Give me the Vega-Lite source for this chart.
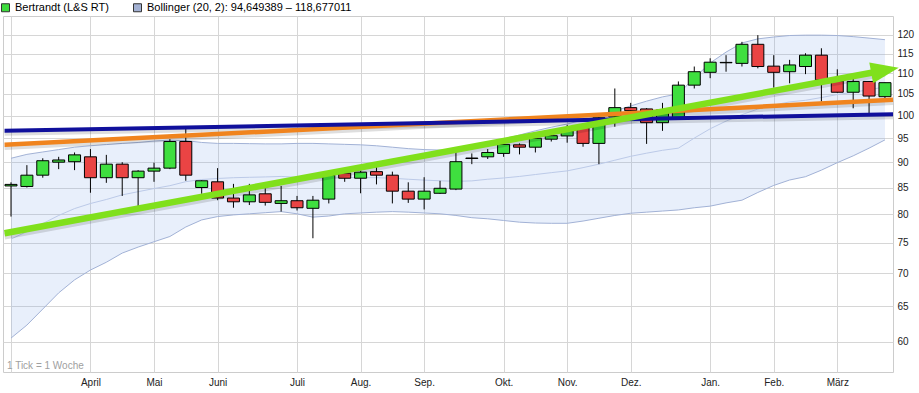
{
  "$schema": "https://vega.github.io/schema/vega-lite/v6.json",
  "width": 890,
  "height": 356,
  "autosize": {"type": "none"},
  "padding": {"left": 3, "top": 16, "right": 26, "bottom": 21},
  "background": "white",
  "config": {
    "view": {"stroke": "#cccccc", "strokeWidth": 1},
    "font": "Liberation Sans",
    "axis": {"gridColor": "#d6d6d6", "gridWidth": 1, "labelFont": "Liberation Sans", "labelFontSize": 10, "labelColor": "#222222", "ticks": false, "domain": false, "labelOverlap": false},
    "axisY": {"orient": "right", "grid": true, "ticks": false, "domain": false, "labelPadding": 4, "title": null, "labelOverlap": false, "labelAlign": "left", "tickCount": 30, "labelSeparation": 0}
  },
  "data": {"values": [
    {"d":"2013-02-25","o":85.3,"h":86.0,"l":79.6,"c":85.6,"up":90.8,"mid":75.65,"lo":60.5},
    {"d":"2013-03-04","o":85.2,"h":89.4,"l":85.0,"c":87.4,"up":91.6,"mid":76.95,"lo":62.3},
    {"d":"2013-03-11","o":87.4,"h":90.8,"l":86.9,"c":90.3,"up":92.1,"mid":78.35,"lo":64.6},
    {"d":"2013-03-18","o":90.0,"h":91.1,"l":88.6,"c":90.45,"up":92.6,"mid":79.8,"lo":67.0},
    {"d":"2013-03-25","o":90.1,"h":92.0,"l":88.4,"c":91.5,"up":93.1,"mid":81.05,"lo":69.0},
    {"d":"2013-04-01","o":91.1,"h":92.7,"l":84.0,"c":86.9,"up":93.4,"mid":81.98,"lo":70.55},
    {"d":"2013-04-08","o":86.9,"h":91.5,"l":85.9,"c":89.6,"up":93.65,"mid":82.73,"lo":71.8},
    {"d":"2013-04-15","o":89.6,"h":90.0,"l":83.4,"c":86.9,"up":93.9,"mid":83.6,"lo":73.3},
    {"d":"2013-04-22","o":86.9,"h":88.4,"l":81.4,"c":88.2,"up":94.1,"mid":84.2,"lo":74.3},
    {"d":"2013-04-29","o":88.2,"h":89.9,"l":86.1,"c":88.8,"up":94.4,"mid":84.8,"lo":75.2},
    {"d":"2013-05-06","o":88.8,"h":94.8,"l":88.6,"c":94.3,"up":94.6,"mid":85.35,"lo":76.1},
    {"d":"2013-05-13","o":94.3,"h":97.0,"l":86.3,"c":87.4,"up":94.5,"mid":86.13,"lo":77.75},
    {"d":"2013-05-20","o":85.0,"h":86.4,"l":83.8,"c":86.3,"up":94.1,"mid":86.55,"lo":79.0},
    {"d":"2013-05-27","o":86.1,"h":88.8,"l":82.6,"c":83.0,"up":93.9,"mid":86.75,"lo":79.6},
    {"d":"2013-06-03","o":83.0,"h":85.7,"l":81.2,"c":82.3,"up":93.9,"mid":86.9,"lo":79.9},
    {"d":"2013-06-10","o":82.3,"h":85.7,"l":81.7,"c":83.6,"up":93.85,"mid":86.98,"lo":80.1},
    {"d":"2013-06-17","o":83.8,"h":84.85,"l":81.6,"c":82.2,"up":93.8,"mid":87.05,"lo":80.3},
    {"d":"2013-06-24","o":82.0,"h":85.3,"l":80.5,"c":82.5,"up":93.8,"mid":87.15,"lo":80.5},
    {"d":"2013-07-01","o":82.5,"h":83.4,"l":80.7,"c":81.2,"up":93.9,"mid":87.0,"lo":80.1},
    {"d":"2013-07-08","o":81.1,"h":83.4,"l":75.8,"c":82.6,"up":93.9,"mid":86.7,"lo":79.5},
    {"d":"2013-07-15","o":82.8,"h":87.8,"l":82.0,"c":87.4,"up":93.8,"mid":86.75,"lo":79.7},
    {"d":"2013-07-22","o":87.8,"h":88.2,"l":86.1,"c":86.8,"up":93.7,"mid":86.9,"lo":80.1},
    {"d":"2013-07-29","o":86.8,"h":88.3,"l":83.9,"c":88.0,"up":93.6,"mid":86.93,"lo":80.25},
    {"d":"2013-08-05","o":88.1,"h":89.0,"l":85.6,"c":87.4,"up":93.4,"mid":86.9,"lo":80.4},
    {"d":"2013-08-12","o":87.4,"h":88.1,"l":82.0,"c":84.3,"up":93.1,"mid":86.8,"lo":80.5},
    {"d":"2013-08-19","o":84.3,"h":86.0,"l":82.1,"c":82.8,"up":92.8,"mid":86.6,"lo":80.4},
    {"d":"2013-08-26","o":82.8,"h":87.0,"l":80.9,"c":84.3,"up":92.6,"mid":86.43,"lo":80.25},
    {"d":"2013-09-02","o":83.9,"h":86.3,"l":83.8,"c":84.85,"up":92.5,"mid":86.3,"lo":80.1},
    {"d":"2013-09-09","o":84.7,"h":92.2,"l":84.5,"c":90.1,"up":92.6,"mid":86.2,"lo":79.8},
    {"d":"2013-09-16","o":90.75,"h":91.8,"l":89.6,"c":90.85,"up":93.15,"mid":86.28,"lo":79.4},
    {"d":"2013-09-23","o":91.1,"h":92.7,"l":90.65,"c":92.0,"up":94.0,"mid":86.6,"lo":79.2},
    {"d":"2013-09-30","o":91.8,"h":93.9,"l":91.1,"c":93.7,"up":94.8,"mid":86.85,"lo":78.9},
    {"d":"2013-10-07","o":93.6,"h":93.9,"l":91.6,"c":93.1,"up":95.7,"mid":87.15,"lo":78.6},
    {"d":"2013-10-14","o":93.1,"h":95.5,"l":92.0,"c":95.0,"up":96.6,"mid":87.53,"lo":78.45},
    {"d":"2013-10-21","o":94.8,"h":96.1,"l":94.3,"c":95.55,"up":97.4,"mid":87.9,"lo":78.4},
    {"d":"2013-10-28","o":95.5,"h":97.9,"l":94.05,"c":96.6,"up":98.1,"mid":88.25,"lo":78.4},
    {"d":"2013-11-04","o":97.3,"h":97.5,"l":93.2,"c":93.9,"up":99.0,"mid":88.9,"lo":78.8},
    {"d":"2013-11-11","o":93.9,"h":99.7,"l":89.6,"c":99.5,"up":99.9,"mid":89.6,"lo":79.3},
    {"d":"2013-11-18","o":99.7,"h":106.3,"l":97.5,"c":101.8,"up":101.0,"mid":90.4,"lo":79.8},
    {"d":"2013-11-25","o":101.8,"h":102.9,"l":100.9,"c":101.1,"up":102.2,"mid":91.2,"lo":80.2},
    {"d":"2013-12-02","o":101.5,"h":101.7,"l":93.8,"c":98.4,"up":103.3,"mid":91.85,"lo":80.4},
    {"d":"2013-12-09","o":98.4,"h":102.9,"l":96.6,"c":101.3,"up":104.3,"mid":92.45,"lo":80.6},
    {"d":"2013-12-16","o":99.6,"h":108.0,"l":99.4,"c":107.1,"up":105.0,"mid":92.9,"lo":80.8},
    {"d":"2013-12-23","o":107.1,"h":111.7,"l":106.3,"c":110.4,"up":108.85,"mid":95.03,"lo":81.2},
    {"d":"2013-12-30","o":110.25,"h":113.8,"l":108.8,"c":112.8,"up":112.6,"mid":97.05,"lo":81.5},
    {"d":"2014-01-06","o":112.65,"h":114.6,"l":110.4,"c":112.75,"up":115.4,"mid":98.75,"lo":82.1},
    {"d":"2014-01-13","o":112.5,"h":118.1,"l":111.7,"c":117.45,"up":117.8,"mid":100.2,"lo":82.6},
    {"d":"2014-01-20","o":117.45,"h":119.9,"l":111.25,"c":111.7,"up":118.9,"mid":101.48,"lo":84.05},
    {"d":"2014-01-27","o":111.8,"h":114.6,"l":106.5,"c":110.25,"up":119.4,"mid":102.4,"lo":85.4},
    {"d":"2014-02-03","o":110.4,"h":113.4,"l":107.55,"c":112.1,"up":119.8,"mid":103.13,"lo":86.45},
    {"d":"2014-02-10","o":111.7,"h":115.1,"l":109.8,"c":114.6,"up":119.9,"mid":103.5,"lo":87.1},
    {"d":"2014-02-17","o":114.6,"h":116.4,"l":103.2,"c":108.35,"up":119.9,"mid":104.15,"lo":88.4},
    {"d":"2014-02-24","o":108.1,"h":111.0,"l":105.3,"c":105.4,"up":119.8,"mid":104.85,"lo":89.9},
    {"d":"2014-03-03","o":105.4,"h":108.8,"l":101.65,"c":108.0,"up":119.5,"mid":105.4,"lo":91.3},
    {"d":"2014-03-10","o":108.0,"h":108.1,"l":100.3,"c":104.5,"up":119.1,"mid":106.0,"lo":92.9},
    {"d":"2014-03-17","o":104.35,"h":107.7,"l":103.6,"c":107.7,"up":118.68,"mid":106.66,"lo":94.65}
  ]},
  "encoding": {
    "x": {
      "field": "d", "type": "temporal", "title": null,
      "scale": {"type": "utc", "padding": 0, "domain": [
        {"year": 2013, "month": 2, "date": 21, "hours": 11, "minutes": 25, "utc": true},
        {"year": 2014, "month": 3, "date": 20, "hours": 13, "utc": true}
      ]},
      "axis": {
        "orient": "bottom", "grid": true, "ticks": false, "domain": false,
        "labelPadding": 5, "labelOverlap": false, "labelFlush": false, "labelBound": false,
        "values": [
          {"year": 2013, "month": 2, "date": 25, "utc": true},
          {"year": 2013, "month": 4, "date": 1, "utc": true},
          {"year": 2013, "month": 4, "date": 29, "utc": true},
          {"year": 2013, "month": 5, "date": 27, "utc": true},
          {"year": 2013, "month": 7, "date": 1, "utc": true},
          {"year": 2013, "month": 7, "date": 29, "utc": true},
          {"year": 2013, "month": 8, "date": 26, "utc": true},
          {"year": 2013, "month": 9, "date": 30, "utc": true},
          {"year": 2013, "month": 10, "date": 28, "utc": true},
          {"year": 2013, "month": 11, "date": 25, "utc": true},
          {"year": 2013, "month": 12, "date": 30, "utc": true},
          {"year": 2014, "month": 1, "date": 27, "utc": true},
          {"year": 2014, "month": 2, "date": 24, "utc": true}
        ],
        "labelExpr": "time(datum.value) < 1362000000000 ? '' : ['Jan.','Feb.','März','April','Mai','Juni','Juli','Aug.','Sep.','Okt.','Nov.','Dez.'][utcmonth(time(datum.value) + 518400000)]"
      }
    }
  },
  "layer": [
    {
      "mark": {"type": "area", "fillOpacity": 0, "strokeOpacity": 0},
      "encoding": {
        "y": {
          "field": "lo", "type": "quantitative", "title": null,
          "scale": {"type": "log", "domain": [56.04, 125.2], "nice": false, "zero": false},
          "axis": {"values": [60, 65, 70, 75, 80, 85, 90, 95, 100, 105, 110, 115, 120], "labelExpr": "format(datum.value, 'd')"}
        },
        "y2": {"field": "up"},
        "fill": {
          "datum": "Bollinger (20, 2): 94,649389 – 118,677011",
          "scale": {"domain": ["Bertrandt (L&S RT)", "Bollinger (20, 2): 94,649389 – 118,677011"], "range": ["#3ddc3d", "#a3b1d3"]},
          "legend": {
            "orient": "none", "legendX": -3, "legendY": -14, "direction": "horizontal", "title": null,
            "symbolType": "square", "symbolSize": 64, "symbolOpacity": 1, "symbolStrokeColor": "#333333", "symbolStrokeWidth": 1,
            "labelFont": "Liberation Sans", "labelFontSize": 11, "labelColor": "#000000", "labelOffset": 4, "labelLimit": 500,
            "columnPadding": 22, "padding": 0,
            "encode": {"symbols": {"update": {"opacity": {"value": 1}, "fillOpacity": {"value": 1}, "strokeOpacity": {"value": 1}, "stroke": {"value": "#333333"}, "strokeWidth": {"value": 1}}}}
          }
        }
      }
    },
    {
      "mark": {"type": "area", "fill": "#7fa6ea", "fillOpacity": 0.18},
      "encoding": {
        "y": {"field": "lo", "type": "quantitative", "title": null, "scale": {"type": "log", "domain": [56.04, 125.2], "nice": false, "zero": false},
          "axis": {"values": [60, 65, 70, 75, 80, 85, 90, 95, 100, 105, 110, 115, 120], "labelExpr": "format(datum.value, 'd')"}},
        "y2": {"field": "up"}
      }
    },
    {
      "mark": {"type": "line", "stroke": "#a2b2d6", "strokeWidth": 1},
      "encoding": {"y": {"field": "up", "type": "quantitative", "title": null, "scale": {"type": "log", "domain": [56.04, 125.2], "nice": false, "zero": false},
        "axis": {"values": [60, 65, 70, 75, 80, 85, 90, 95, 100, 105, 110, 115, 120], "labelExpr": "format(datum.value, 'd')"}}}
    },
    {
      "mark": {"type": "line", "stroke": "#a2b2d6", "strokeWidth": 1},
      "encoding": {"y": {"field": "lo", "type": "quantitative", "title": null, "scale": {"type": "log", "domain": [56.04, 125.2], "nice": false, "zero": false},
        "axis": {"values": [60, 65, 70, 75, 80, 85, 90, 95, 100, 105, 110, 115, 120], "labelExpr": "format(datum.value, 'd')"}}}
    },
    {
      "mark": {"type": "line", "stroke": "#bccae8", "strokeWidth": 1},
      "encoding": {"y": {"field": "mid", "type": "quantitative", "title": null, "scale": {"type": "log", "domain": [56.04, 125.2], "nice": false, "zero": false},
        "axis": {"values": [60, 65, 70, 75, 80, 85, 90, 95, 100, 105, 110, 115, 120], "labelExpr": "format(datum.value, 'd')"}}}
    },
    {
      "mark": {"type": "rule", "stroke": "#000000", "strokeWidth": 1},
      "encoding": {
        "y": {"field": "l", "type": "quantitative", "title": null, "scale": {"type": "log", "domain": [56.04, 125.2], "nice": false, "zero": false},
          "axis": {"values": [60, 65, 70, 75, 80, 85, 90, 95, 100, 105, 110, 115, 120], "labelExpr": "format(datum.value, 'd')"}},
        "y2": {"field": "h"}
      }
    },
    {
      "mark": {"type": "bar", "size": 12, "stroke": "#000000", "strokeWidth": 1},
      "encoding": {
        "y": {"field": "o", "type": "quantitative", "title": null, "scale": {"type": "log", "domain": [56.04, 125.2], "nice": false, "zero": false},
          "axis": {"values": [60, 65, 70, 75, 80, 85, 90, 95, 100, 105, 110, 115, 120], "labelExpr": "format(datum.value, 'd')"}},
        "y2": {"field": "c"},
        "fill": {"condition": {"test": "datum.c >= datum.o", "value": "#3fdf3f"}, "value": "#ea4444"}
      }
    },
    {
      "data": {"values": [{"d": "2013-02-22T04:00:00Z", "v": 96.6}, {"d": "2014-03-20T13:00:00Z", "v": 100.3}]},
      "mark": {"type": "line", "stroke": "#000000", "strokeOpacity": 0.13, "strokeWidth": 4, "yOffset": 3},
      "encoding": {"y": {"field": "v", "type": "quantitative", "title": null, "scale": {"type": "log", "domain": [56.04, 125.2], "nice": false, "zero": false},
        "axis": {"values": [60, 65, 70, 75, 80, 85, 90, 95, 100, 105, 110, 115, 120], "labelExpr": "format(datum.value, 'd')"}}}
    },
    {
      "data": {"values": [{"d": "2013-02-22T04:00:00Z", "v": 93.6}, {"d": "2014-03-20T13:00:00Z", "v": 103.6}]},
      "mark": {"type": "line", "stroke": "#000000", "strokeOpacity": 0.13, "strokeWidth": 4.5, "yOffset": 3},
      "encoding": {"y": {"field": "v", "type": "quantitative", "title": null, "scale": {"type": "log", "domain": [56.04, 125.2], "nice": false, "zero": false},
        "axis": {"values": [60, 65, 70, 75, 80, 85, 90, 95, 100, 105, 110, 115, 120], "labelExpr": "format(datum.value, 'd')"}}}
    },
    {
      "data": {"values": [{"d": "2013-02-22T04:00:00Z", "v": 76.66}, {"d": "2014-03-17T00:00:00Z", "v": 110.75}]},
      "mark": {"type": "line", "stroke": "#000000", "strokeOpacity": 0.13, "strokeWidth": 6.5, "yOffset": 3},
      "encoding": {"y": {"field": "v", "type": "quantitative", "title": null, "scale": {"type": "log", "domain": [56.04, 125.2], "nice": false, "zero": false},
        "axis": {"values": [60, 65, 70, 75, 80, 85, 90, 95, 100, 105, 110, 115, 120], "labelExpr": "format(datum.value, 'd')"}}}
    },
    {
      "data": {"values": [{"d": "2013-02-22T04:00:00Z", "v": 93.6}, {"d": "2014-03-20T13:00:00Z", "v": 103.6}]},
      "mark": {"type": "line", "stroke": "#f0841e", "strokeWidth": 4.5},
      "encoding": {"y": {"field": "v", "type": "quantitative", "title": null, "scale": {"type": "log", "domain": [56.04, 125.2], "nice": false, "zero": false},
        "axis": {"values": [60, 65, 70, 75, 80, 85, 90, 95, 100, 105, 110, 115, 120], "labelExpr": "format(datum.value, 'd')"}}}
    },
    {
      "data": {"values": [{"d": "2013-02-22T04:00:00Z", "v": 96.6}, {"d": "2014-03-20T13:00:00Z", "v": 100.3}]},
      "mark": {"type": "line", "stroke": "#10109c", "strokeWidth": 4},
      "encoding": {"y": {"field": "v", "type": "quantitative", "title": null, "scale": {"type": "log", "domain": [56.04, 125.2], "nice": false, "zero": false},
        "axis": {"values": [60, 65, 70, 75, 80, 85, 90, 95, 100, 105, 110, 115, 120], "labelExpr": "format(datum.value, 'd')"}}}
    },
    {
      "data": {"values": [{"d": "2013-02-22T04:00:00Z", "v": 76.66}, {"d": "2014-03-17T00:00:00Z", "v": 110.75}]},
      "mark": {"type": "line", "stroke": "#80e01c", "strokeWidth": 6.5},
      "encoding": {"y": {"field": "v", "type": "quantitative", "title": null, "scale": {"type": "log", "domain": [56.04, 125.2], "nice": false, "zero": false},
        "axis": {"values": [60, 65, 70, 75, 80, 85, 90, 95, 100, 105, 110, 115, 120], "labelExpr": "format(datum.value, 'd')"}}}
    },
    {
      "data": {"values": [{"d": "2014-03-17T00:00:00Z", "v": 110.75}]},
      "mark": {"type": "point", "shape": "M-1,-0.75L1,0L-1,0.75Z", "size": 784, "angle": 349.5, "filled": true, "fill": "#80e01c", "fillOpacity": 1, "strokeWidth": 0, "clip": false},
      "encoding": {"y": {"field": "v", "type": "quantitative", "title": null, "scale": {"type": "log", "domain": [56.04, 125.2], "nice": false, "zero": false},
        "axis": {"values": [60, 65, 70, 75, 80, 85, 90, 95, 100, 105, 110, 115, 120], "labelExpr": "format(datum.value, 'd')"}}}
    },
    {
      "data": {"values": [{"d": "2013-02-21T11:25:00Z", "v": 56.8, "t": "1 Tick = 1 Woche"}]},
      "mark": {"type": "text", "align": "left", "baseline": "middle", "dx": 4, "font": "Liberation Sans", "fontSize": 10, "fill": "#a0a0a0"},
      "encoding": {
        "y": {"field": "v", "type": "quantitative", "title": null, "scale": {"type": "log", "domain": [56.04, 125.2], "nice": false, "zero": false},
          "axis": {"values": [60, 65, 70, 75, 80, 85, 90, 95, 100, 105, 110, 115, 120], "labelExpr": "format(datum.value, 'd')"}},
        "text": {"field": "t"}
      }
    }
  ]
}
